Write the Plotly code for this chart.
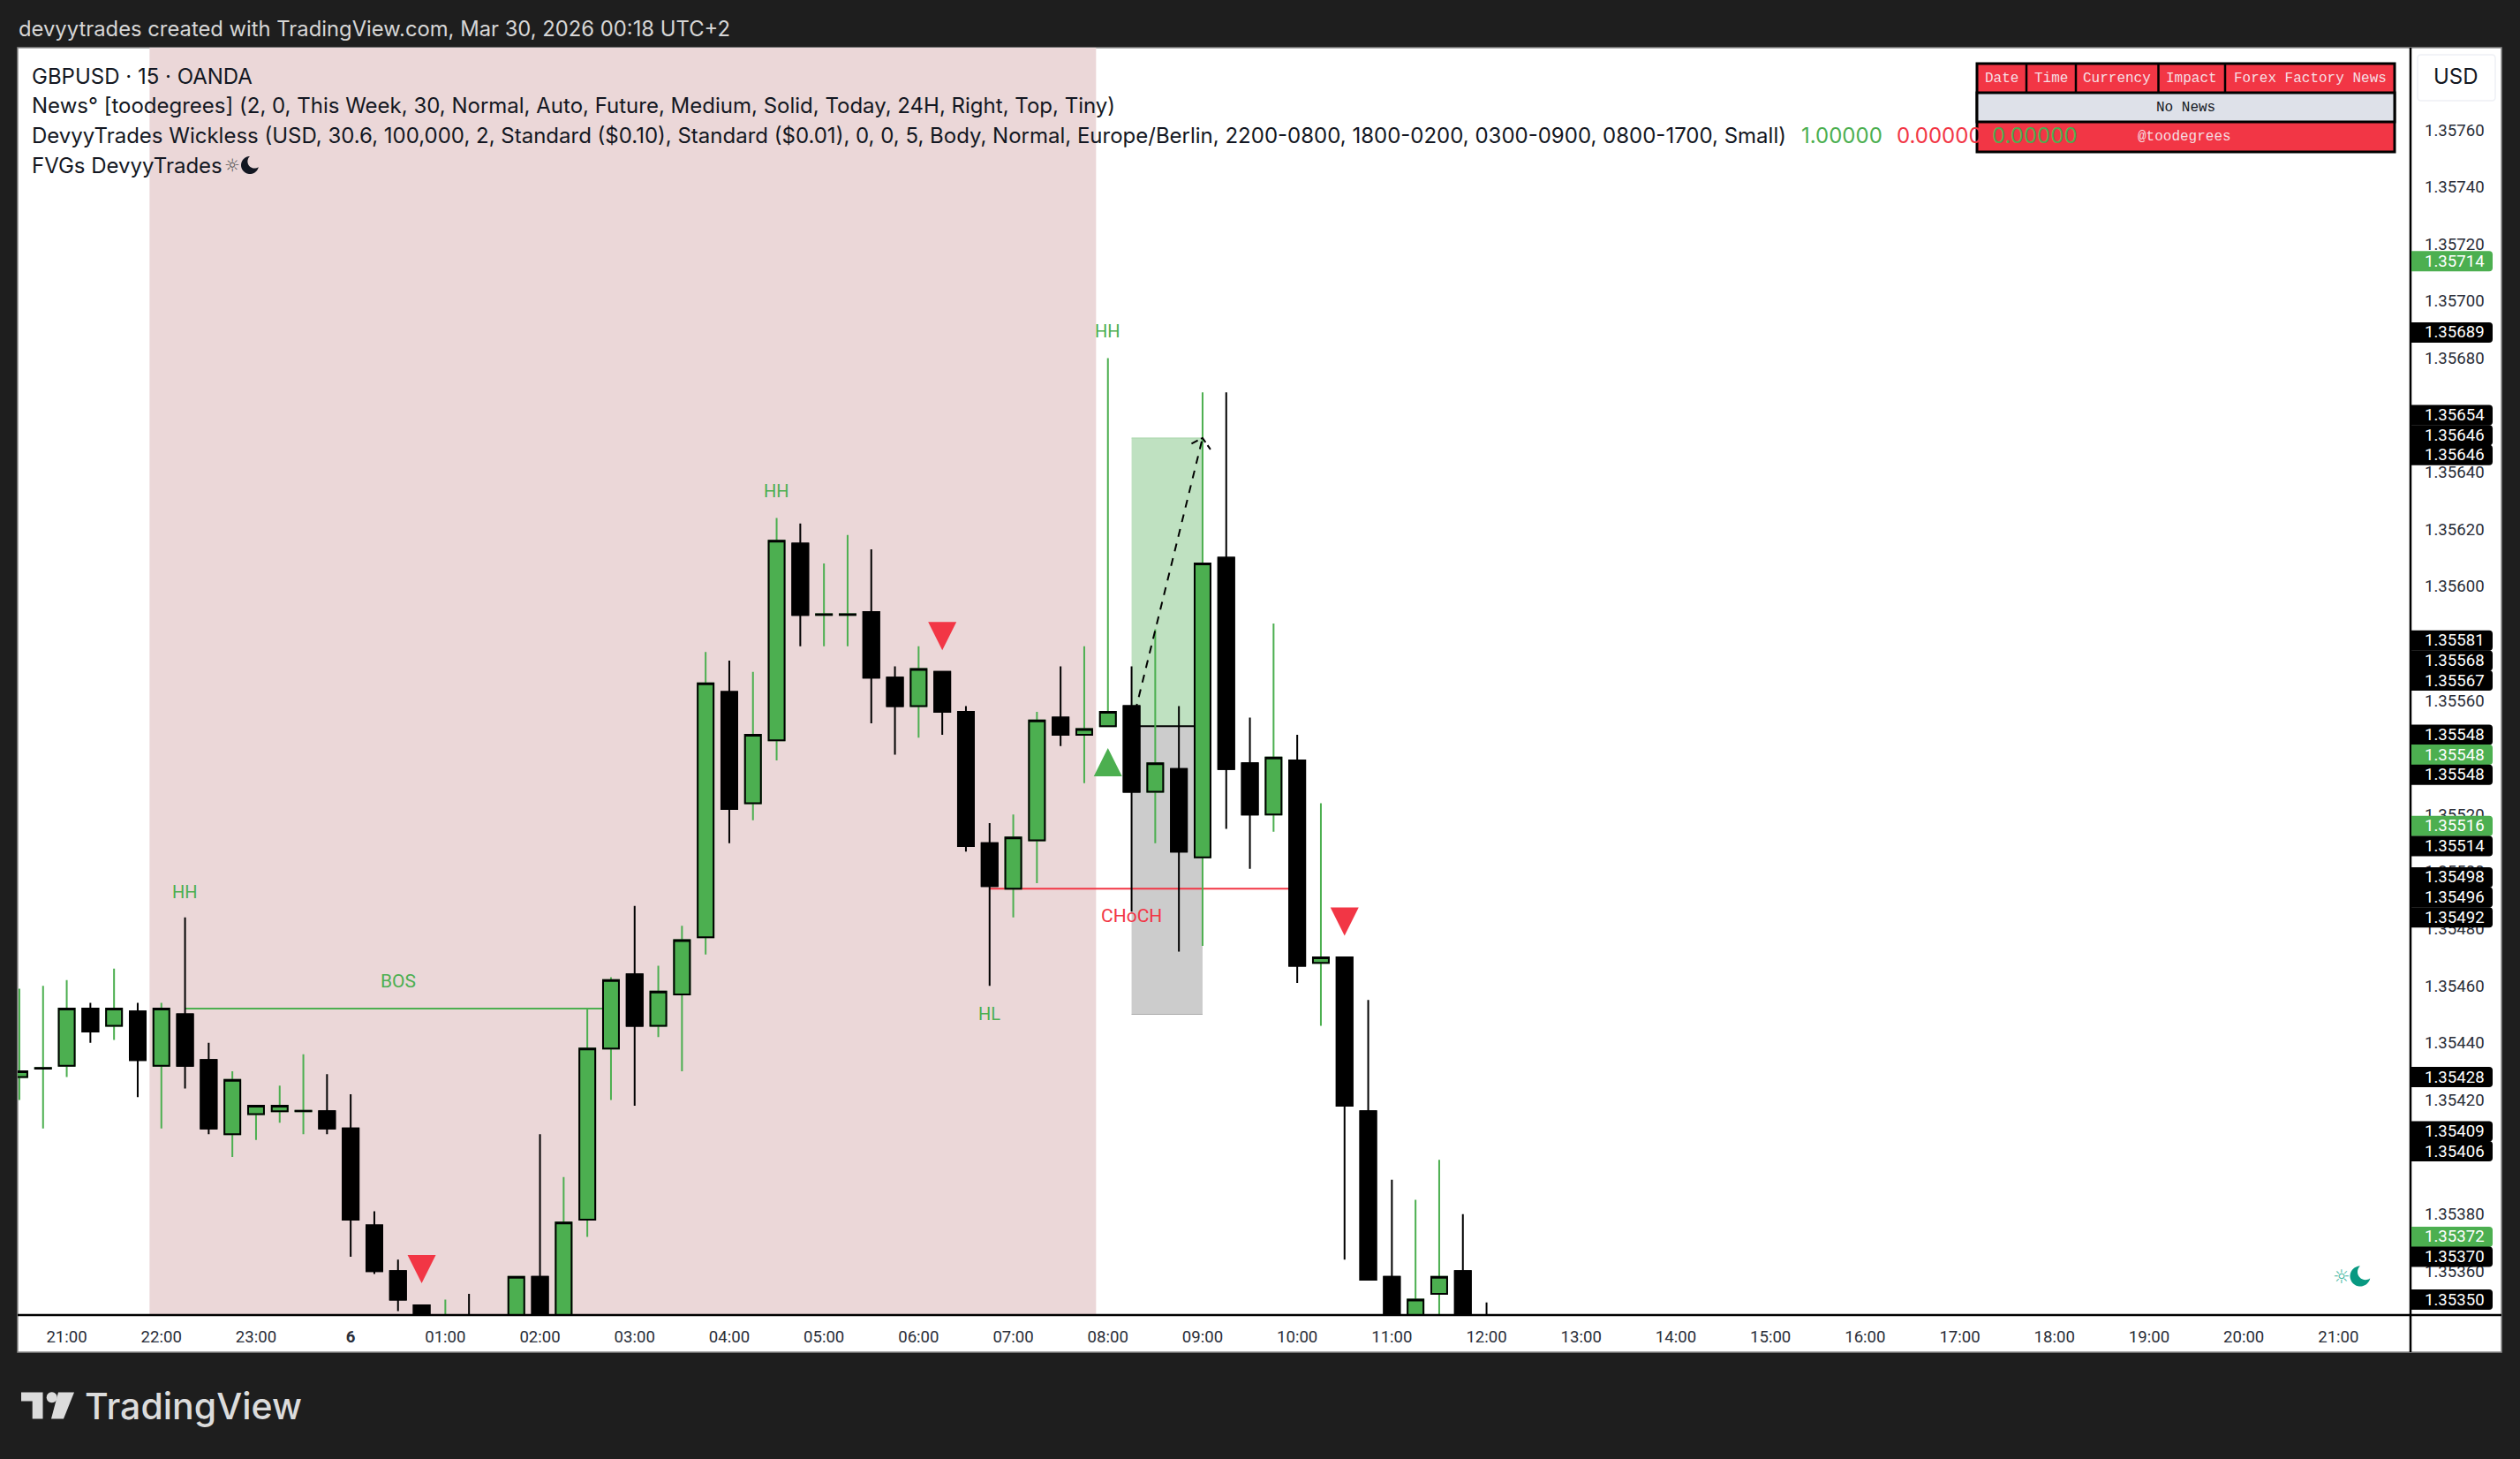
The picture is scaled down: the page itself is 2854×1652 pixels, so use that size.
import math
import pandas as pd
import plotly.graph_objects as go

# ---------- DATA ----------
times = pd.date_range("2026-03-05 20:30", "2026-03-06 12:00", freq="15min")
opens = [1.35428,1.354310,1.35432,1.35452,1.35446,1.35451,1.35432,1.35450,1.35434,1.35408,1.35415,1.35416,1.354160,1.35416,1.35410,1.35376,
         1.35360,1.35348,1.35336,1.35342,1.35335,1.35338,1.35358,1.35340,1.35378,1.35438,1.35464,1.35446,1.35457,1.35477,1.35563,1.35524,
         1.35546,1.35615,1.355900,1.355900,1.35591,1.35568,1.35558,1.35570,1.35556,1.35510,1.35494,1.35511,1.35554,1.35548,1.35551,1.35558,
         1.35528,1.35536,1.35505,1.35610,1.35538,1.35520,1.35539,1.35468,1.35470,1.35416,1.35358,1.35330,1.35352,1.35360,1.35340]
highs = [1.35459,1.35460,1.35462,1.35454,1.35466,1.35454,1.35454,1.35484,1.35440,1.35430,1.35418,1.35425,1.35436,1.35429,1.35422,1.35381,
         1.35364,1.35348,1.35350,1.35352,1.35343,1.35358,1.35408,1.35393,1.35452,1.35463,1.35488,1.35467,1.35481,1.35577,1.35574,1.35570,
         1.35624,1.35622,1.35608,1.35618,1.35613,1.35572,1.35579,1.35570,1.35558,1.35517,1.35520,1.35556,1.35572,1.35579,1.35680,1.35572,
         1.35585,1.35558,1.35668,1.35668,1.35554,1.35587,1.35548,1.35524,1.35470,1.35455,1.35392,1.35385,1.35399,1.35380,1.35349]
lows = [1.35420,1.35410,1.35428,1.35440,1.35441,1.35421,1.35410,1.35424,1.35408,1.35400,1.35406,1.35412,1.35408,1.35408,1.35365,1.35359,
        1.35346,1.35336,1.35332,1.35330,1.35328,1.35335,1.35335,1.35338,1.35372,1.35420,1.35418,1.35442,1.35430,1.35471,1.35510,1.35518,
        1.35539,1.35579,1.35579,1.35579,1.35552,1.35541,1.35547,1.35548,1.35507,1.35460,1.35484,1.35496,1.35544,1.35531,1.35551,1.35486,
        1.35510,1.35472,1.35474,1.35515,1.35501,1.35514,1.35461,1.35446,1.35364,1.35357,1.35330,1.35325,1.35330,1.35335,1.35335]
closes = [1.35430,1.354312,1.35452,1.35444,1.35452,1.35434,1.35452,1.35432,1.35410,1.35427,1.35418,1.35418,1.354162,1.35410,1.35378,1.35360,
          1.35350,1.35340,1.35342,1.35335,1.35338,1.35358,1.35340,1.35377,1.35438,1.35462,1.35446,1.35458,1.35476,1.35566,1.35522,1.35548,
          1.35616,1.35590,1.355902,1.355902,1.35568,1.35558,1.35571,1.35556,1.35509,1.35495,1.35512,1.35553,1.35548,1.35550,1.35556,1.35528,
          1.35538,1.35507,1.35608,1.35536,1.35520,1.35540,1.35467,1.35470,1.35418,1.35357,1.35335,1.35350,1.35358,1.35338,1.35338]

time_tick_vals = pd.date_range("2026-03-05 21:00", "2026-03-06 21:00", freq="1h")
time_tick_text = ["21:00","22:00","23:00","<b>6</b>"] + [f"{h:02d}:00" for h in range(1, 22)]
price_ticks = [1.35760,1.35740,1.35720,1.35700,1.35680,1.35640,1.35620,1.35600,1.35560,1.35520,1.35500,1.35480,
               1.35460,1.35440,1.35420,1.35380,1.35360]

price_badges = ["1.35714","1.35689","1.35654","1.35646","1.35646","1.35581","1.35568","1.35567","1.35548","1.35548","1.35548",
                "1.35516","1.35514","1.35498","1.35496","1.35492","1.35428","1.35409","1.35406","1.35372","1.35370","1.35350"]
badge_axis_price = [1.35714,1.35689,1.35660,1.35653,1.35646,1.35581,1.35574,1.35567,1.35548,1.35541,1.35534,
                    1.35516,1.35509,1.35498,1.35491,1.35484,1.35428,1.35409,1.35402,1.35372,1.35365,1.35350]
badge_kind = ["g","k","k","k","k","k","k","k","k","g","k","g","k","k","k","k","k","k","k","g","k","k"]

struct_labels = ["HH","HH","HH","HL","BOS","CHoCH"]
struct_times = ["2026-03-05 22:15","2026-03-06 04:30","2026-03-06 08:00","2026-03-06 06:45","2026-03-06 00:30","2026-03-06 08:15"]
struct_prices = [1.35493,1.356335,1.356894,1.354503,1.354616,1.354844]

sell_times = ["2026-03-06 00:45","2026-03-06 06:15","2026-03-06 10:30"]
sell_prices = [1.353607,1.355826,1.354825]
buy_times = ["2026-03-06 08:00"]
buy_prices = [1.355384]

session_window = ["2026-03-05 21:52:30","2026-03-06 07:52:30"]
bos_times = ["2026-03-05 22:15","2026-03-06 02:45"]; bos_price = 1.35452
choch_times = ["2026-03-06 06:45","2026-03-06 10:00"]; choch_price = 1.35494
pos_times = ["2026-03-06 08:15","2026-03-06 09:00"]
pos_target, pos_entry, pos_stop = 1.35652, 1.35551, 1.35450
path_tip_times = ["2026-03-06 08:53","2026-03-06 09:00","2026-03-06 09:05"]
path_tip_prices = [1.35650,1.35652,1.35648]

legend_lines = ["GBPUSD · 15 · OANDA",
    "News° [toodegrees] (2, 0, This Week, 30, Normal, Auto, Future, Medium, Solid, Today, 24H, Right, Top, Tiny)",
    "DevyyTrades Wickless (USD, 30.6, 100,000, 2, Standard ($0.10), Standard ($0.01), 0, 0, 5, Body, Normal, Europe/Berlin, 2200-0800, 1800-0200, 0300-0900, 0800-1700, Small)",
    "FVGs DevyyTrades"]
legend_values = ["1.00000","0.00000","0.00000"]
table_header = ["Date","Time","Currency","Impact","Forex Factory News"]

# ---------- STYLE / LAYOUT ----------
W, H = 2854, 1652
L, R, T, B = 20, 2730, 54, 1489
GREEN, RED, DARK = "#4caf50", "#f23645", "#1e1e1e"
UI = "Inter"
TV = "Roboto"
MONO = "Liberation Mono"
px = lambda x: (x - L) / (R - L)
py = lambda y: 1 - (y - T) / (B - T)
shapes, notes = [], []

def rect(x0, y0, x1, y1, fill, line=None, lw=0, layer="below"):
    shapes.append(dict(type="rect", xref="paper", yref="paper", x0=px(x0), x1=px(x1), y0=py(y0), y1=py(y1),
                       fillcolor=fill, line=dict(color=line or fill, width=lw), layer=layer))
def seg(x0, y0, x1, y1, color, lw, layer="above"):
    shapes.append(dict(type="line", xref="paper", yref="paper", x0=px(x0), x1=px(x1), y0=py(y0), y1=py(y1),
                       line=dict(color=color, width=lw), layer=layer))
def note(x, y, text, size, color, family=UI, anchor="left", weight=None):
    font = dict(size=size, color=color, family=family)
    if weight:
        font["weight"] = weight
    notes.append(dict(xref="paper", yref="paper", x=px(x), y=py(y), text=text, showarrow=False, xanchor=anchor,
                      yanchor="middle", font=font, borderpad=0, borderwidth=0))
def poly_path(points, fmt=".2f"):
    return "M " + " L ".join(f"{a:{fmt}} {b:{fmt}}" for a, b in points) + " Z"
def crescent(R0):
    cx, cy, r = 0.52*R0, 0.42*R0, 0.78*R0
    d, phi = math.hypot(cx, cy), math.atan2(cy, cx)
    a = math.acos((d*d + R0*R0 - r*r)/(2*d*R0)); b = math.acos((d*d + r*r - R0*R0)/(2*d*r))
    pts = []
    for i in range(41):
        t = phi + a + (2*math.pi - 2*a)*i/40
        pts.append((R0*math.cos(t), R0*math.sin(t)))
    for i in range(41):
        t = phi + math.pi + b - 2*b*i/40
        pts.append((cx + r*math.cos(t), cy + r*math.sin(t)))
    return poly_path(pts)
def pixel_icon(x, y, path, color):
    shapes.append(dict(type="path", xref="paper", yref="paper", xsizemode="pixel", ysizemode="pixel",
                       xanchor=px(x), yanchor=py(y), path=path, fillcolor=color, line=dict(width=0), layer="above"))

# page panels
rect(L, T, 2833, 1531, "#ffffff", "#8a8a8a", 1.5)
# session and position tool
shapes.append(dict(type="rect", xref="x", yref="paper", x0=session_window[0], x1=session_window[1], y0=0, y1=1,
                   fillcolor="#ebd7d8", line=dict(width=0), layer="below"))
shapes.append(dict(type="rect", xref="x", yref="y", x0=pos_times[0], x1=pos_times[1], y0=pos_entry, y1=pos_target,
                   fillcolor="#bfe1c1", line=dict(width=0), layer="below"))
shapes.append(dict(type="rect", xref="x", yref="y", x0=pos_times[0], x1=pos_times[1], y0=pos_stop, y1=pos_entry,
                   fillcolor="#cccccc", line=dict(width=0), layer="below"))
for yv, col in ((pos_stop, "#a9a9a9"), (pos_target, "#a9d6ac")):
    shapes.append(dict(type="line", xref="x", yref="y", x0=pos_times[0], x1=pos_times[1], y0=yv, y1=yv,
                       line=dict(color=col, width=1), layer="below"))
shapes.append(dict(type="line", xref="x", yref="y", x0=pos_times[0], x1=pos_times[1], y0=pos_entry, y1=pos_entry,
                   line=dict(color="#000000", width=2), layer="below"))
shapes.append(dict(type="line", xref="x", yref="y", x0=bos_times[0], x1=bos_times[1], y0=bos_price, y1=bos_price,
                   line=dict(color=GREEN, width=2), layer="below"))
shapes.append(dict(type="line", xref="x", yref="y", x0=choch_times[0], x1=choch_times[1], y0=choch_price, y1=choch_price,
                   line=dict(color=RED, width=2), layer="below"))

fig = go.Figure()
fig.add_trace(go.Candlestick(x=times, open=opens, high=highs, low=lows, close=closes, whiskerwidth=0,
    increasing=dict(line=dict(color=GREEN, width=2), fillcolor=GREEN),
    decreasing=dict(line=dict(color="#000000", width=2), fillcolor="#000000"),
    hoverinfo="skip", showlegend=False))
fig.add_trace(go.Candlestick(x=times, open=opens, close=closes,
    high=[max(o, c) for o, c in zip(opens, closes)], low=[min(o, c) for o, c in zip(opens, closes)], whiskerwidth=0,
    increasing=dict(line=dict(color="#000000", width=2), fillcolor=GREEN),
    decreasing=dict(line=dict(color="#000000", width=2), fillcolor="#000000"),
    hoverinfo="skip", showlegend=False))
fig.add_trace(go.Scatter(x=pos_times, y=[pos_entry, pos_target], mode="lines",
    line=dict(color="#000000", width=2, dash="9px,8px"), hoverinfo="skip", showlegend=False))
fig.add_trace(go.Scatter(x=path_tip_times, y=path_tip_prices, mode="lines",
    line=dict(color="#000000", width=2, dash="8px,4px"), hoverinfo="skip", showlegend=False))

# signal triangles, anchored on the axes
for t, p in zip(sell_times, sell_prices):
    shapes.append(dict(type="path", xref="x", yref="y", xsizemode="pixel", ysizemode="pixel", xanchor=t, yanchor=p,
                       path="M -16 16 L 16 16 L 0 -16 Z", fillcolor=RED, line=dict(width=0), layer="above"))
for t, p in zip(buy_times, buy_prices):
    shapes.append(dict(type="path", xref="x", yref="y", xsizemode="pixel", ysizemode="pixel", xanchor=t, yanchor=p,
                       path="M -16 -16 L 16 -16 L 0 16 Z", fillcolor=GREEN, line=dict(width=0), layer="above"))

# structure labels
for t, p, s in zip(struct_times, struct_prices, struct_labels):
    notes.append(dict(xref="x", yref="y", x=t, y=p, text=s, showarrow=False, xanchor="center", yanchor="middle",
                      font=dict(size=20 if s in ("HH", "HL") else 21, color=RED if s == "CHoCH" else GREEN, family=TV)))

# axis frame lines
seg(2730, T, 2730, 1531, "#000000", 2.5)
seg(L, B, 2833, B, "#000000", 2.5)

# USD button
r_path = "M -40 -26 H 40 Q 44 -26 44 -22 V 22 Q 44 26 40 26 H -40 Q -44 26 -44 22 V -22 Q -44 -26 -40 -26 Z"
shapes.append(dict(type="path", xref="paper", yref="paper", xsizemode="pixel", ysizemode="pixel", xanchor=px(2782), yanchor=py(88),
                   path=r_path, fillcolor="#ffffff", line=dict(color="#eef0f5", width=1.5), layer="above"))
note(2781, 87, "USD", 24, "#131722", UI, "center")

# price badges
badge = "M 0 -11.5 H 88 Q 92 -11.5 92 -7.5 V 7.5 Q 92 11.5 88 11.5 H 0 Z"
for txt, p, k in zip(price_badges, badge_axis_price, badge_kind):
    shapes.append(dict(type="path", xref="paper", yref="y", xsizemode="pixel", ysizemode="pixel", xanchor=px(2731), yanchor=p,
                       path=badge, fillcolor=GREEN if k == "g" else "#000000", line=dict(width=0), layer="above"))
    notes.append(dict(xref="paper", yref="y", x=px(2779.5), y=p, text=txt, showarrow=False, xanchor="center", yanchor="middle",
                      font=dict(size=18.6, color="#ffffff", family=TV)))

# news table
rect(2239, 72, 2712, 172, RED, "#000000", 3, "above")
rect(2239, 105, 2712, 138, "#dee1e9", "#000000", 3, "above")
for xd in (2295, 2351, 2444.5, 2520):
    seg(xd, 72, xd, 105, "#000000", 2.5)
cell_edges = [2239, 2295, 2351, 2444.5, 2520, 2712]
for i, txt in enumerate(table_header):
    note((cell_edges[i] + cell_edges[i+1]) / 2, 89, txt, 16, "#f6dfe2", MONO, "center")
note(2475, 122, "No News", 16, "#131722", MONO, "center")
note(2474, 155, "@toodegrees", 16, "#f6dfe2", MONO, "center")

# legend text
for yy, s in zip((86.5, 120, 154, 188), legend_lines):
    note(36, yy, s, 24, "#131722", UI)
for xx, s, c in zip((2040, 2147.5, 2256), legend_values, (GREEN, RED, GREEN)):
    note(xx, 154, s, 24, c, UI)
note(254, 187, "☼", 20, "#555555", "DejaVu Sans")
pixel_icon(283, 187, crescent(10), "#131722")

# bottom-right session icon
note(2652, 1445, "☼", 22, "#46b8a2", "DejaVu Sans", "center")
pixel_icon(2673, 1445, crescent(11.5), "#089981")

# header and footer text
note(21, 32, "devyytrades created with TradingView.com, Mar 30, 2026 00:18 UTC+2", 23.8, "#d6d6d6", UI)
note(96, 1592, "TradingView", 41, "#dcdcdc", UI, weight=500)

# TradingView mark
logo = "#dcdcdc"
for poly in ([(24,1576.5),(48.5,1576.5),(48.5,1606.5),(36.7,1606.5),(36.7,1586.6),(24,1586.6)],
             [(66,1576.5),(84,1576.5),(72,1606.5),(58,1606.5)]):
    shapes.append(dict(type="path", xref="paper", yref="paper", fillcolor=logo, line=dict(width=0), layer="above",
                       path=poly_path([(px(a), py(b)) for a, b in poly], ".5f")))
pixel_icon(58.7, 1582.3, poly_path([(6*math.cos(i*math.pi/12), 6*math.sin(i*math.pi/12)) for i in range(24)]), logo)

fig.update_layout(
    width=W, height=H, autosize=False,
    margin=dict(l=L, r=W - R, t=T, b=H - B, pad=0),
    paper_bgcolor=DARK, plot_bgcolor="rgba(0,0,0,0)",
    boxmode="overlay", boxgap=0.33, boxgroupgap=0, showlegend=False, hovermode=False,
    shapes=shapes, annotations=notes,
    xaxis=dict(type="date", range=["2026-03-05 20:28:54", "2026-03-06 21:45:42"], rangeslider=dict(visible=False),
               showgrid=False, zeroline=False, showline=False, tickmode="array", tickvals=list(time_tick_vals), ticktext=time_tick_text,
               ticks="", ticklabelstandoff=11, tickangle=0, tickfont=dict(family=TV, size=18.6, color="#2a2e39")),
    yaxis=dict(range=[1.353446, 1.357888], side="right", showgrid=False, zeroline=False, showline=False,
               tickmode="array", tickvals=price_ticks, tickformat=".5f", ticks="", ticklabelstandoff=15,
               tickfont=dict(family=TV, size=18.6, color="#2a2e39")),
)
fig.write_html("out.html", config=dict(displayModeBar=False),
               post_script="document.body.style.margin='0';document.body.style.background='#1e1e1e';")
